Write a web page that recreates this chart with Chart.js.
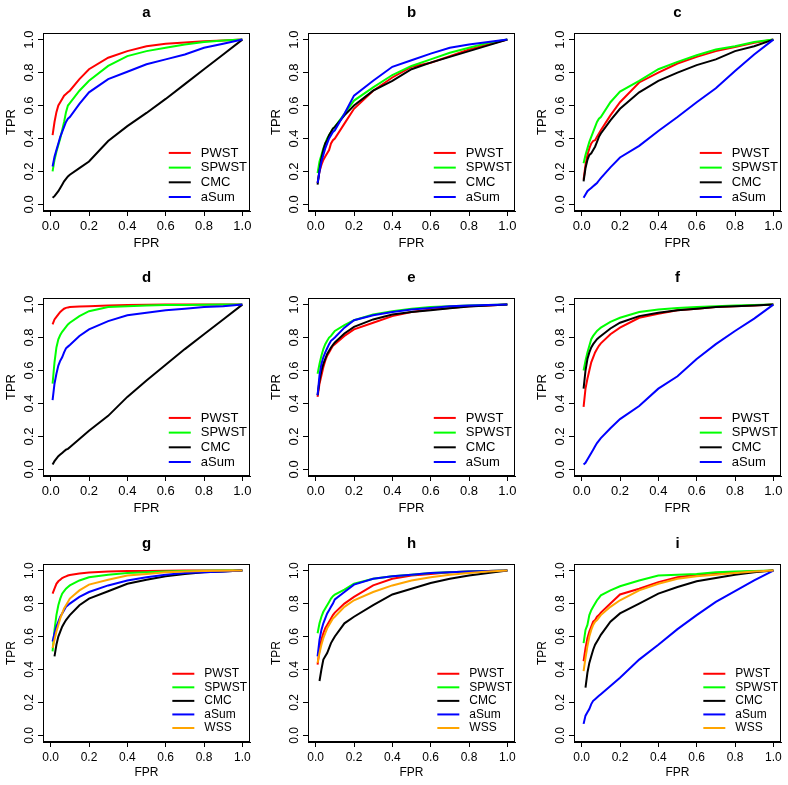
<!DOCTYPE html>
<html>
<head>
<meta charset="utf-8">
<script src="https://cdn.jsdelivr.net/npm/chart.js@4.4.1/dist/chart.umd.min.js"></script>
<style>
html,body{margin:0;padding:0;background:#fff;}
#wrap{position:relative;width:788px;height:785px;overflow:hidden;background:#fff;}
#wrap canvas{position:absolute;}
</style>
</head>
<body>
<div id="wrap"></div>
<script>
// ---------- data ----------
const fpr = [0.01,0.02,0.03,0.04,0.05,0.06,0.07,0.08,0.09,0.1,0.15,0.2,0.3,0.4,0.5,0.6,0.7,0.8,0.9,1.0];
const tickValues = [0, 0.2, 0.4, 0.6, 0.8, 1.0];
const panelTitles = ['a','b','c','d','e','f','g','h','i'];
const seriesNames = ['PWST','SPWST','CMC','aSum','WSS'];

const a_PWST  = [0.42,0.50,0.56,0.60,0.62,0.64,0.66,0.67,0.68,0.69,0.76,0.82,0.89,0.93,0.96,0.975,0.983,0.99,0.995,1];
const a_SPWST = [0.20,0.27,0.32,0.36,0.40,0.45,0.50,0.56,0.60,0.615,0.69,0.75,0.84,0.90,0.93,0.95,0.97,0.985,0.995,1];
const a_CMC   = [0.04,0.05,0.065,0.08,0.10,0.12,0.14,0.155,0.17,0.18,0.22,0.26,0.385,0.475,0.555,0.64,0.73,0.82,0.91,1];
const a_aSum  = [0.23,0.29,0.33,0.37,0.41,0.44,0.47,0.50,0.52,0.53,0.61,0.68,0.76,0.805,0.85,0.88,0.91,0.95,0.975,1];

const b_PWST  = [0.13,0.20,0.24,0.27,0.29,0.31,0.33,0.37,0.39,0.40,0.49,0.58,0.69,0.77,0.835,0.86,0.90,0.94,0.97,1];
const b_SPWST = [0.19,0.26,0.30,0.34,0.37,0.40,0.42,0.44,0.46,0.47,0.55,0.63,0.71,0.785,0.84,0.88,0.92,0.95,0.98,1];
const b_CMC   = [0.12,0.21,0.28,0.33,0.37,0.39,0.42,0.44,0.46,0.47,0.54,0.60,0.69,0.75,0.82,0.86,0.895,0.93,0.965,1];
const b_aSum  = [0.13,0.20,0.26,0.30,0.34,0.37,0.40,0.42,0.44,0.45,0.55,0.66,0.75,0.835,0.875,0.915,0.95,0.97,0.985,1];

const c_PWST  = [0.15,0.24,0.30,0.34,0.37,0.385,0.39,0.41,0.43,0.45,0.54,0.62,0.74,0.80,0.855,0.895,0.93,0.955,0.98,1];
const c_SPWST = [0.25,0.30,0.34,0.38,0.41,0.44,0.47,0.50,0.52,0.53,0.62,0.685,0.75,0.82,0.865,0.905,0.94,0.96,0.985,1];
const c_CMC   = [0.14,0.22,0.27,0.30,0.31,0.33,0.35,0.38,0.41,0.43,0.51,0.58,0.68,0.75,0.80,0.845,0.88,0.93,0.96,1];
const c_aSum  = [0.04,0.06,0.08,0.09,0.10,0.11,0.12,0.13,0.145,0.16,0.225,0.285,0.355,0.445,0.53,0.62,0.705,0.81,0.91,1];

const d_PWST  = [0.88,0.91,0.925,0.94,0.955,0.965,0.975,0.98,0.983,0.985,0.988,0.99,0.995,0.998,0.999,1,1,1,1,1];
const d_SPWST = [0.52,0.65,0.74,0.79,0.815,0.835,0.85,0.865,0.88,0.89,0.93,0.96,0.985,0.99,0.995,0.997,0.998,0.999,1,1];
const d_CMC   = [0.03,0.05,0.065,0.08,0.09,0.10,0.11,0.12,0.125,0.135,0.185,0.235,0.325,0.44,0.54,0.635,0.73,0.82,0.91,1];
const d_aSum  = [0.42,0.52,0.58,0.63,0.66,0.68,0.71,0.735,0.745,0.755,0.81,0.85,0.90,0.935,0.95,0.965,0.975,0.985,0.99,1];

const e_PWST  = [0.44,0.52,0.57,0.62,0.66,0.69,0.71,0.73,0.75,0.76,0.81,0.85,0.89,0.93,0.955,0.97,0.98,0.99,0.995,1];
const e_SPWST = [0.58,0.64,0.69,0.73,0.76,0.78,0.80,0.81,0.825,0.84,0.875,0.905,0.94,0.96,0.975,0.985,0.99,0.995,0.998,1];
const e_CMC   = [0.45,0.54,0.60,0.64,0.67,0.70,0.72,0.74,0.755,0.77,0.825,0.865,0.91,0.94,0.955,0.965,0.978,0.988,0.995,1];
const e_aSum  = [0.45,0.57,0.64,0.68,0.71,0.735,0.76,0.78,0.79,0.80,0.86,0.905,0.935,0.955,0.97,0.98,0.99,0.995,0.998,1];

const f_PWST  = [0.38,0.49,0.55,0.60,0.65,0.68,0.71,0.73,0.75,0.765,0.82,0.86,0.92,0.945,0.965,0.975,0.985,0.99,0.995,1];
const f_SPWST = [0.60,0.66,0.71,0.75,0.79,0.81,0.825,0.84,0.85,0.86,0.895,0.92,0.955,0.97,0.98,0.985,0.99,0.995,0.998,1];
const f_CMC   = [0.49,0.60,0.67,0.71,0.74,0.76,0.775,0.79,0.80,0.81,0.855,0.89,0.93,0.95,0.965,0.975,0.985,0.99,0.995,1];
const f_aSum  = [0.03,0.04,0.06,0.08,0.10,0.12,0.14,0.16,0.175,0.19,0.25,0.305,0.385,0.49,0.565,0.67,0.76,0.84,0.915,1];

const g_PWST  = [0.86,0.89,0.92,0.935,0.945,0.955,0.96,0.965,0.97,0.973,0.982,0.988,0.995,0.997,0.998,0.999,1,1,1,1];
const g_SPWST = [0.51,0.64,0.73,0.79,0.83,0.86,0.875,0.89,0.90,0.91,0.94,0.96,0.975,0.985,0.99,0.995,0.997,0.999,1,1];
const g_CMC   = [null,0.48,0.55,0.60,0.63,0.66,0.68,0.70,0.715,0.73,0.79,0.83,0.875,0.92,0.945,0.965,0.98,0.99,0.995,1];
const g_aSum  = [0.57,0.62,0.66,0.69,0.72,0.74,0.76,0.78,0.79,0.80,0.84,0.87,0.91,0.94,0.96,0.975,0.985,0.99,0.995,1];
const g_WSS   = [0.53,0.58,0.63,0.67,0.71,0.74,0.77,0.79,0.81,0.83,0.88,0.915,0.945,0.97,0.98,0.99,0.995,0.998,0.999,1];

const h_PWST  = [0.43,0.52,0.58,0.62,0.65,0.67,0.69,0.71,0.73,0.745,0.80,0.84,0.91,0.95,0.97,0.98,0.99,0.995,0.998,1];
const h_SPWST = [0.62,0.68,0.72,0.75,0.77,0.79,0.81,0.83,0.845,0.855,0.885,0.92,0.95,0.965,0.975,0.985,0.99,0.995,0.998,1];
const h_CMC   = [null,0.33,0.40,0.46,0.48,0.50,0.53,0.56,0.58,0.60,0.68,0.72,0.79,0.855,0.89,0.925,0.95,0.97,0.985,1];
const h_aSum  = [0.48,0.58,0.64,0.68,0.71,0.74,0.76,0.78,0.80,0.825,0.87,0.915,0.95,0.965,0.975,0.985,0.99,0.995,0.998,1];
const h_WSS   = [0.44,0.50,0.55,0.59,0.62,0.65,0.67,0.69,0.71,0.72,0.78,0.82,0.87,0.91,0.94,0.96,0.975,0.985,0.995,1];

const i_PWST  = [0.45,0.53,0.59,0.63,0.66,0.69,0.70,0.72,0.73,0.745,0.80,0.855,0.89,0.93,0.96,0.975,0.985,0.99,0.995,1];
const i_SPWST = [0.56,0.64,0.67,0.73,0.76,0.78,0.80,0.82,0.835,0.85,0.88,0.905,0.94,0.97,0.975,0.98,0.99,0.995,0.998,1];
const i_CMC   = [null,0.29,0.38,0.44,0.48,0.52,0.55,0.57,0.59,0.61,0.69,0.74,0.80,0.86,0.90,0.935,0.955,0.975,0.99,1];
const i_aSum  = [0.07,0.12,0.14,0.16,0.19,0.21,0.22,0.23,0.24,0.25,0.30,0.35,0.46,0.55,0.645,0.73,0.81,0.875,0.94,1];
const i_WSS   = [0.39,0.47,0.54,0.60,0.64,0.67,0.69,0.70,0.715,0.73,0.78,0.82,0.88,0.92,0.95,0.965,0.975,0.985,0.995,1];

// ---------- styles / layout ----------
const seriesColors = {PWST:'#ff0000', SPWST:'#00ff00', CMC:'#000000', aSum:'#0000ff', WSS:'#ffa500'};
const panelSeries = [
  [a_PWST,a_SPWST,a_CMC,a_aSum],
  [b_PWST,b_SPWST,b_CMC,b_aSum],
  [c_PWST,c_SPWST,c_CMC,c_aSum],
  [d_PWST,d_SPWST,d_CMC,d_aSum],
  [e_PWST,e_SPWST,e_CMC,e_aSum],
  [f_PWST,f_SPWST,f_CMC,f_aSum],
  [g_PWST,g_SPWST,g_CMC,g_aSum,g_WSS],
  [h_PWST,h_SPWST,h_CMC,h_aSum,h_WSS],
  [i_PWST,i_SPWST,i_CMC,i_aSum,i_WSS]
];

const FONT = '"Liberation Sans", Arial, Helvetica, sans-serif';
const colLeft = [0, 265, 531];
const rowTop = [0, 265, 531];
const CW = 257, CH = 254;
const AREA_TOP = 33, AREA_LEFT = 43, AREA_H = 178, PAD_RIGHT = 7;

Chart.defaults.color = '#000';
Chart.defaults.font.family = FONT;

const boxPlugin = {
  id: 'rBox',
  afterDraw(chart) {
    const {ctx, chartArea: a} = chart;
    ctx.save();
    ctx.strokeStyle = '#000';
    ctx.lineWidth = 1;
    ctx.strokeRect(Math.round(a.left) + 0.5, Math.round(a.top) + 0.5,
                   Math.round(a.right - a.left) - 1, Math.round(a.bottom - a.top) - 1);
    ctx.restore();
  }
};

const legendPlugin = {
  id: 'rLegend',
  afterDraw(chart, args, opts) {
    const {ctx, chartArea: a} = chart;
    const fs = opts.fontSize;
    const ds = chart.data.datasets;
    ctx.save();
    ctx.font = fs + 'px ' + FONT;
    const maxW = Math.max(...ds.map(d => ctx.measureText(d.label).width));
    const textX = a.right - 3 - maxW;
    const lineEnd = textX - 10, lineStart = lineEnd - 22;
    const step = fs * 1.13;
    ds.forEach((d, k) => {
      const y = a.bottom - 14 - step * (ds.length - 1 - k);
      ctx.strokeStyle = d.borderColor;
      ctx.lineWidth = 2;
      ctx.beginPath();
      ctx.moveTo(lineStart, y);
      ctx.lineTo(lineEnd, y);
      ctx.stroke();
      ctx.fillStyle = '#000';
      ctx.textAlign = 'left';
      ctx.textBaseline = 'middle';
      ctx.fillText(d.label, textX, y);
    });
    ctx.restore();
  }
};

const wrap = document.getElementById('wrap');

panelSeries.forEach((series, p) => {
  const row = Math.floor(p / 3), col = p % 3;
  const fs = row === 2 ? 12 : 13;
  const xTitlePadBottom = row === 2 ? 5.5 : 2.5;
  const canvas = document.createElement('canvas');
  canvas.width = CW; canvas.height = CH;
  canvas.style.left = colLeft[col] + 'px';
  canvas.style.top = rowTop[row] + 'px';
  canvas.style.width = CW + 'px'; canvas.style.height = CH + 'px';
  wrap.appendChild(canvas);

  const n = series.length;
  const datasets = series.map((vals, k) => ({
    label: seriesNames[k],
    data: fpr.map((x, j) => ({x: x, y: vals[j]})),
    borderColor: seriesColors[seriesNames[k]],
    backgroundColor: seriesColors[seriesNames[k]],
    borderWidth: 2,
    pointRadius: 0,
    tension: 0,
    fill: false,
    order: n - k
  }));

  new Chart(canvas, {
    type: 'line',
    data: {datasets},
    plugins: [boxPlugin, legendPlugin],
    options: {
      responsive: false,
      animation: false,
      devicePixelRatio: 1,
      layout: {padding: {left: 0, top: 0, right: PAD_RIGHT, bottom: 0}},
      plugins: {
        legend: {display: false},
        tooltip: {enabled: false},
        title: {
          display: true,
          text: panelTitles[p],
          fullSize: false,
          font: {size: 15, weight: 'bold', family: FONT},
          color: '#000',
          padding: {top: 4, bottom: 11}
        },
        rLegend: {fontSize: fs}
      },
      scales: {
        x: {
          type: 'linear',
          min: -0.04, max: 1.04,
          afterBuildTicks: s => { s.ticks = tickValues.map(v => ({value: v})); },
          afterFit: s => { s.height = CH - AREA_TOP - AREA_H; },
          ticks: {
            callback: v => Number(v).toFixed(1),
            font: {size: fs, family: FONT},
            color: '#000',
            padding: 3,
            maxRotation: 0, minRotation: 0,
            autoSkip: false
          },
          grid: {display: true, drawOnChartArea: false, drawTicks: true, tickLength: 5, tickColor: '#000', tickWidth: 1},
          border: {display: true, color: '#000', width: 1},
          title: {display: true, text: 'FPR', font: {size: fs, family: FONT}, color: '#000', padding: {top: 0, bottom: xTitlePadBottom}}
        },
        y: {
          type: 'linear',
          min: -0.04, max: 1.04,
          afterBuildTicks: s => { s.ticks = tickValues.map(v => ({value: v})); },
          afterFit: s => { s.width = AREA_LEFT; },
          ticks: {
            callback: v => Number(v).toFixed(1),
            font: {size: fs, family: FONT},
            color: '#000',
            padding: 0,
            minRotation: 90, maxRotation: 90,
            crossAlign: 'center',
            autoSkip: false
          },
          grid: {display: true, drawOnChartArea: false, drawTicks: true, tickLength: 5, tickColor: '#000', tickWidth: 1},
          border: {display: true, color: '#000', width: 1},
          title: {display: true, text: 'TPR', font: {size: fs, family: FONT}, color: '#000', padding: {top: 4, bottom: 0}}
        }
      }
    }
  });
});
</script>
</body>
</html>
